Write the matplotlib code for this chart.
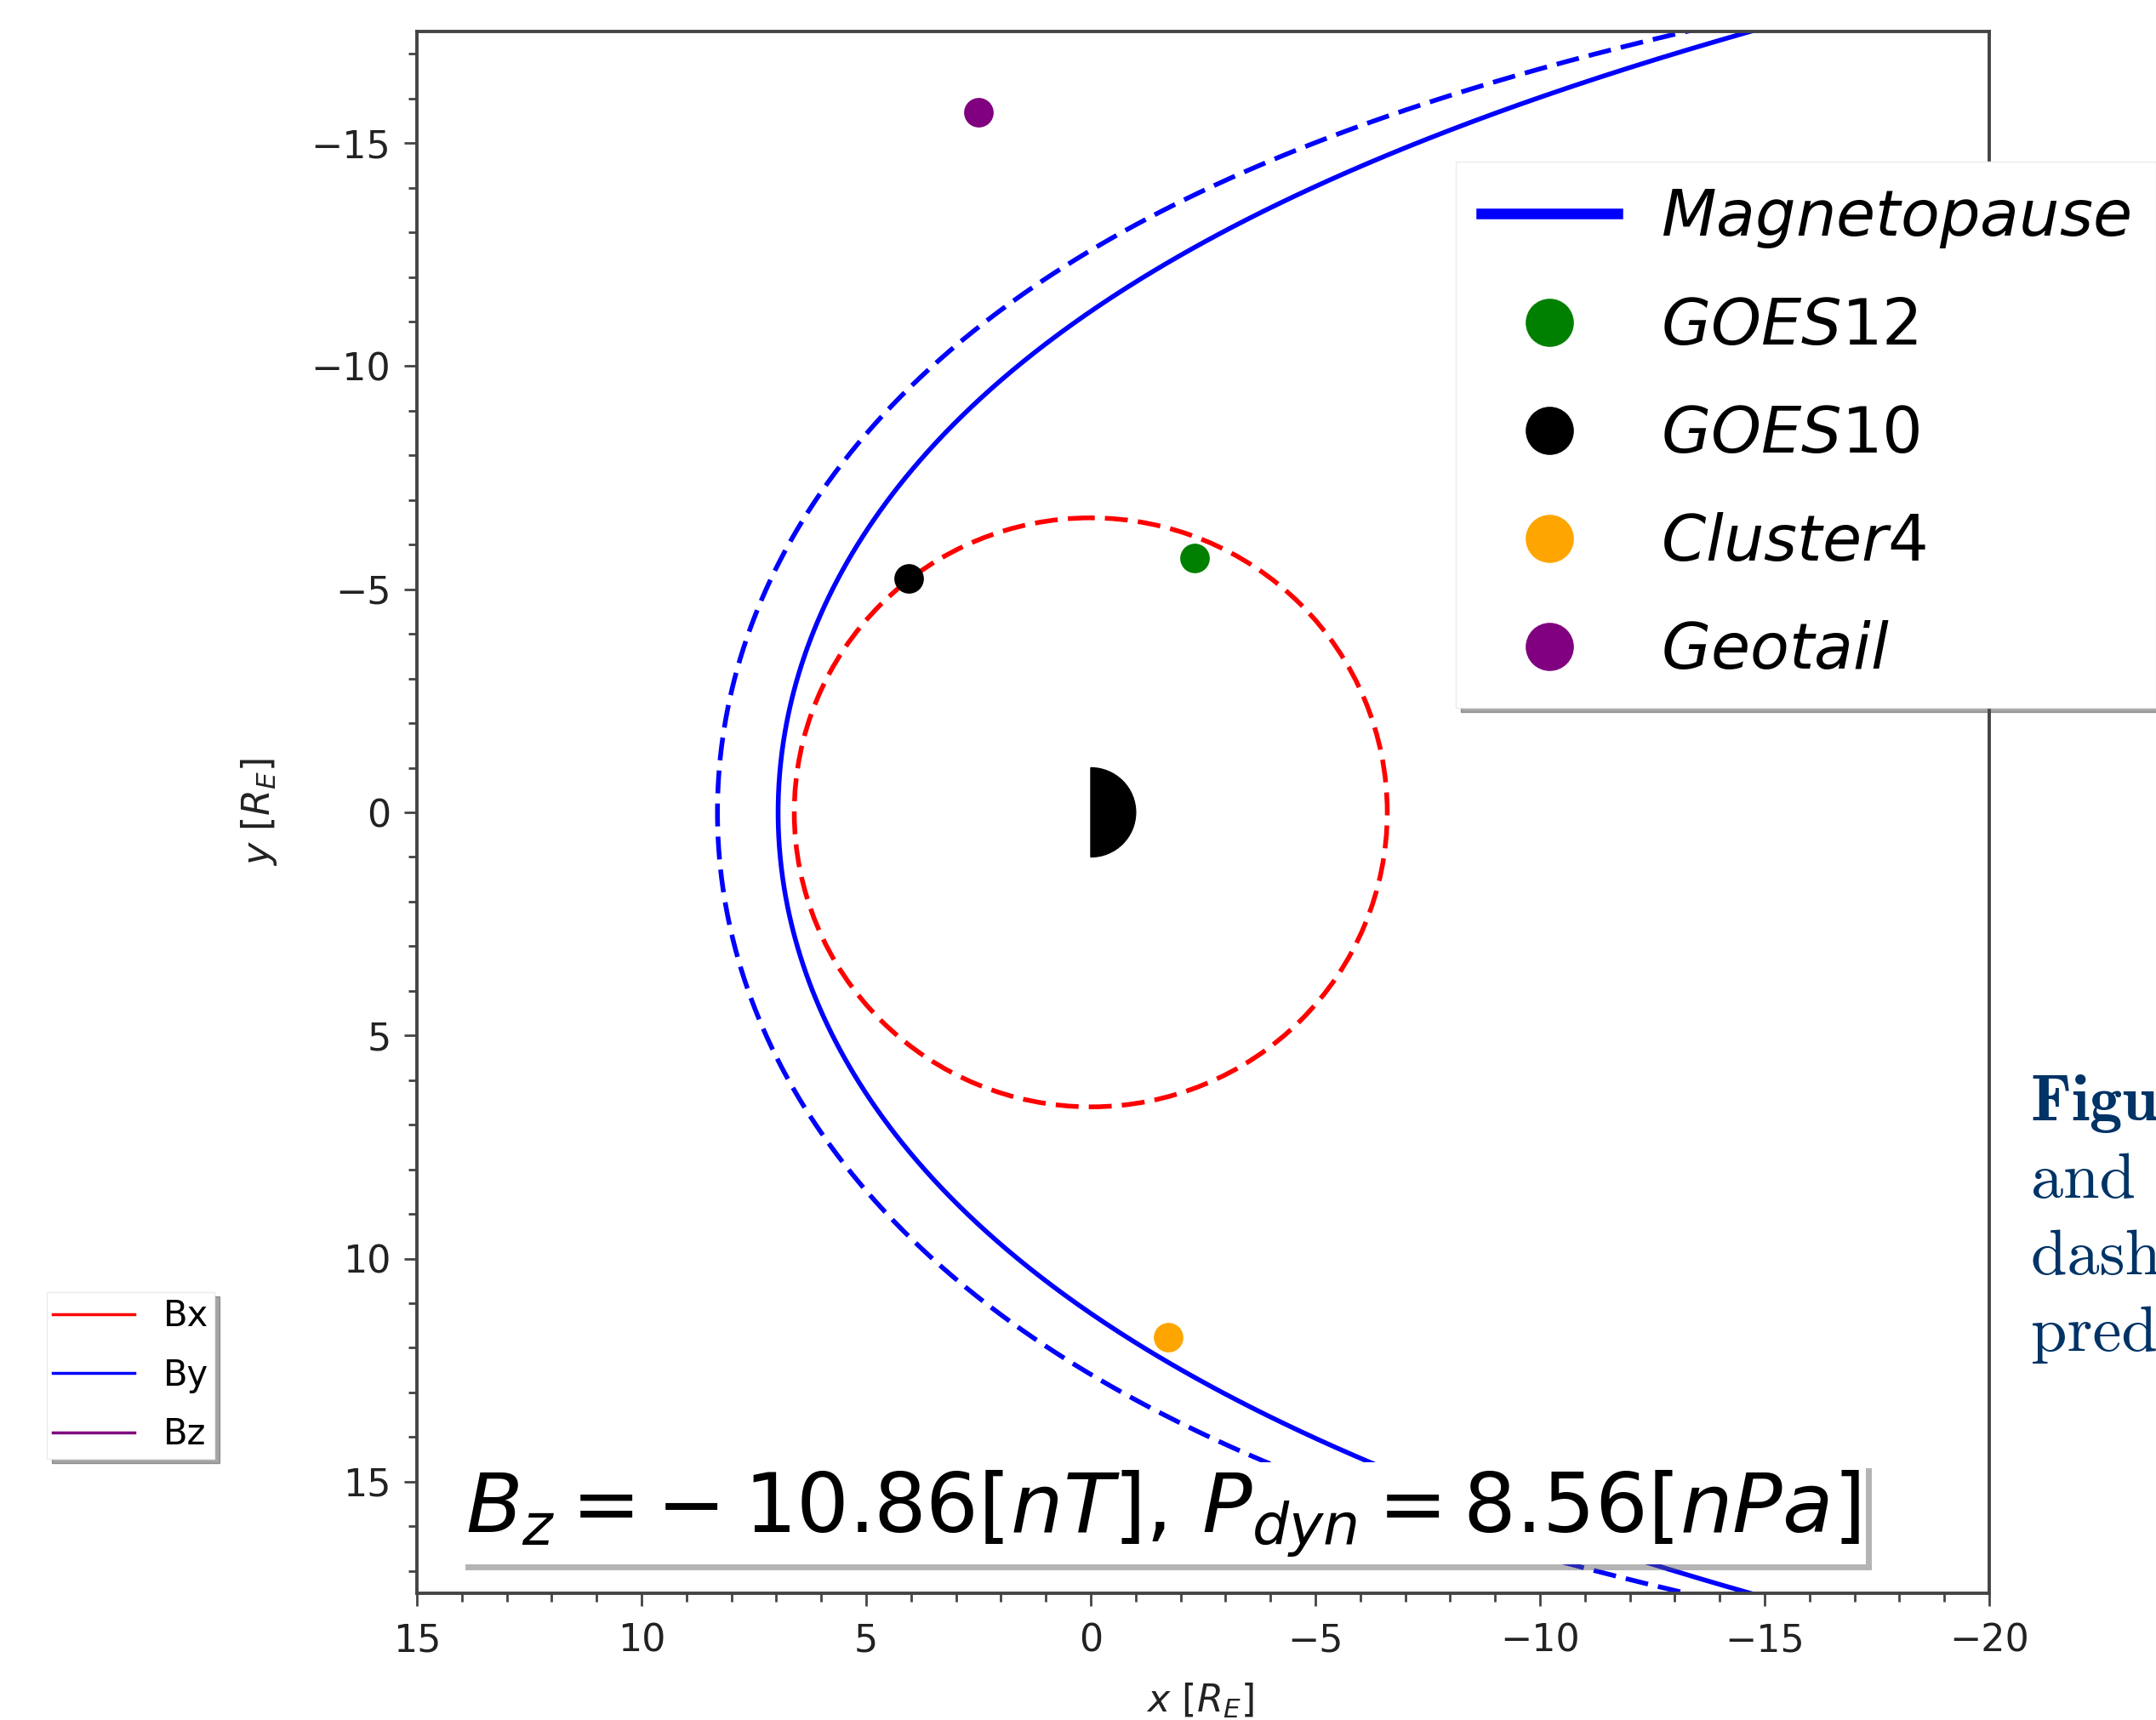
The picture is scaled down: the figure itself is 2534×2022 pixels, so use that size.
import matplotlib
matplotlib.use("Agg")
import matplotlib.pyplot as plt
import numpy as np
from matplotlib.patches import Circle, Wedge
from matplotlib.lines import Line2D
from matplotlib.ticker import MultipleLocator
import matplotlib.patheffects as pe

# ---------------- data ----------------
# Shue-type magnetopause model parameters (subsolar distance r0 [R_E], flaring alpha)
mp_r0 = [6.96, 8.31]
mp_alpha = [0.69, 0.60]
mp_styles = ["solid", "dashed"]
mp_labels = ["$Magnetopause$", None]

geo_orbit_radius = 6.6     # dashed red circle [R_E]
earth_radius = 1.0

sat_names = ["GOES12", "GOES10", "Cluster4", "Geotail"]
sat_x = [-2.31, 4.05, -1.73, 2.50]
sat_y = [-5.70, -5.24, 11.77, -15.69]
sat_colors = ["green", "black", "orange", "purple"]

Bz_value = "10.86"
Pdyn_value = "8.56"

x_ticks = [15, 10, 5, 0, -5, -10, -15, -20]
y_ticks = [-15, -10, -5, 0, 5, 10, 15]
x_limits = (15, -20)
y_limits = (17.5, -17.5)

side_labels = ["Bx", "By", "Bz"]
side_colors = ["red", "blue", "purple"]

caption_lines = ["Figure 4:", "and spacecraft", "dashed line", "predicted"]
caption_bold = [True, False, False, False]

# ---------------- figure ----------------
fig = plt.figure(figsize=(25.34, 20.22), dpi=100)
ax = fig.add_axes([0.19337, 0.07369, 0.72928, 0.90801])

dash = (0, (4.85, 2.15))
theta = np.linspace(-2.7, 2.7, 800)
for r0, a, ls, lab in zip(mp_r0, mp_alpha, mp_styles, mp_labels):
    r = r0 * (2.0 / (1.0 + np.cos(theta))) ** a
    ax.plot(r * np.cos(theta), r * np.sin(theta), color="blue", lw=4,
            linestyle=("-" if ls == "solid" else dash), label=lab, zorder=2)

ax.add_patch(Circle((0, 0), geo_orbit_radius, fill=False, ec="red", lw=4,
                    linestyle=dash, zorder=2))
ax.add_patch(Wedge((0, 0), earth_radius, 90, 270, color="black", zorder=3))

for name, x, y, c in zip(sat_names, sat_x, sat_y, sat_colors):
    ax.plot([x], [y], "o", color=c, ms=25, mew=0, label=f"${name}$", zorder=4)

ax.set_xlim(*x_limits)
ax.set_ylim(*y_limits)
ax.set_xticks(x_ticks)
ax.set_yticks(y_ticks)
ax.xaxis.set_minor_locator(MultipleLocator(1))
ax.yaxis.set_minor_locator(MultipleLocator(1))
ax.tick_params(which="major", length=11, width=2, color="#444444",
               labelsize=32, labelcolor="#222222")
ax.tick_params(which="minor", length=7, width=2, color="#444444")
ax.tick_params(axis="x", which="major", pad=14)
ax.tick_params(axis="y", which="major", pad=11)
for s in ax.spines.values():
    s.set_linewidth(2.8)
    s.set_color("#444444")

ax.set_xlabel(r"$x\ [R_E]$", fontsize=32, va="center", color="#222222")
ax.xaxis.set_label_coords(0.498, -0.0686)
ax.set_ylabel(r"$y\ [R_E]$", fontsize=32, va="center", color="#222222")
ax.yaxis.set_label_coords(-0.1006, 0.5)

# parameter box
txt = ax.text(0.031, 0.022,
              r"$B_z = -\:%s[nT],\,P_{dyn} = %s[nPa]$" % (Bz_value, Pdyn_value),
              transform=ax.transAxes, fontsize=70, ha="left", va="bottom",
              bbox=dict(boxstyle="square,pad=0.07", fc="white", ec="none"),
              zorder=6)
txt.get_bbox_patch().set_path_effects(
    [pe.SimplePatchShadow(offset=(5, -5), shadow_rgbFace="0.35", alpha=0.45), pe.Normal()])

# main legend
leg = ax.legend(loc="upper left", bbox_to_anchor=(0.6607, 0.9167), borderaxespad=0,
                fontsize=54, markerscale=1.63, handlelength=2.13, handletextpad=0.68,
                labelspacing=0.72, borderpad=0.4, fancybox=False, framealpha=1,
                edgecolor="0.92", shadow={"ox": 4, "oy": -4, "alpha": 0.5})
leg.set_zorder(10)
for ln in leg.get_lines():
    ln.set_linewidth(9)

# side legend (left)
side_handles = [Line2D([], [], color=c, lw=2.5) for c in side_colors]
fig.legend(side_handles, side_labels, loc="upper left",
           bbox_to_anchor=(0.0217, 0.2488), borderaxespad=0, fontsize=30,
           handlelength=2.3, handletextpad=0.8, labelspacing=0.66, borderpad=0.18,
           fancybox=False, framealpha=1, edgecolor="0.92",
           shadow={"ox": 4, "oy": -4, "alpha": 0.5})

# caption fragment on the right
cap_y = [0.3487, 0.3037, 0.2592, 0.2146]
for line, bold, yy in zip(caption_lines, caption_bold, cap_y):
    fig.text(0.942, yy, line, fontfamily=("cmb10" if bold else "cmr10"),
             fontsize=55, color="#003366", ha="left", va="baseline")

fig.savefig("out.png", dpi=100)
